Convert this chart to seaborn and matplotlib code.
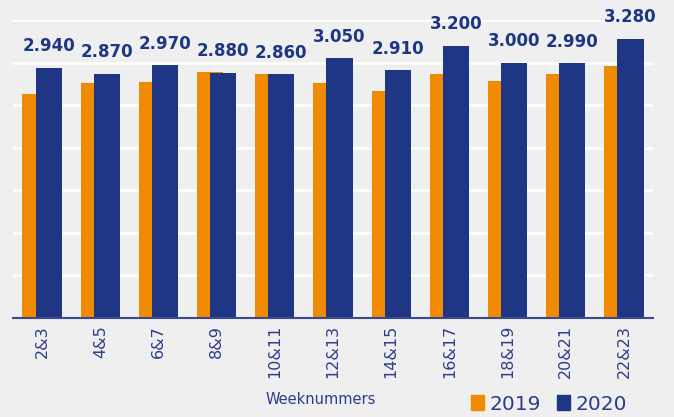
import pandas as pd
import numpy as np
import matplotlib.pyplot as plt
import seaborn as sns

# data
weeks = ['2&3', '4&5', '6&7', '8&9', '10&11', '12&13', '14&15', '16&17', '18&19', '20&21', '22&23']
values_2019 = [2630, 2760, 2770, 2890, 2870, 2760, 2670, 2870, 2780, 2870, 2960]
values_2020 = [2940, 2870, 2970, 2880, 2860, 3050, 2910, 3200, 3000, 2990, 3280]
years = ['2019', '2020']

orange = '#f08a00'
blue = '#1f3684'
text_blue = '#2d3c8c'
bg = '#efefef'

df = pd.DataFrame({
    'week': weeks * 2,
    'jaar': [years[0]] * len(weeks) + [years[1]] * len(weeks),
    'aantal': values_2019 + values_2020,
})

sns.set_style('white')
plt.rcParams['font.family'] = ['DejaVu Sans']

fig = plt.figure(figsize=(6.74, 4.17), dpi=100, facecolor=bg)
ax = fig.add_axes([13 / 674, 1 - 318 / 417, 640 / 674, 298 / 417])
ax.set_facecolor(bg)

sns.barplot(data=df, x='week', y='aantal', hue='jaar', palette=[orange, blue],
            width=0.9, dodge=True, saturation=1, linewidth=0,
            legend=False, ax=ax)

# make the two bars of a group overlap by half a bar
shift = 0.1125
for bar in ax.containers[0]:
    bar.set_x(bar.get_x() + shift)
for bar in ax.containers[1]:
    bar.set_x(bar.get_x() - shift)

labels = [f'{v:,}'.replace(',', '.') for v in values_2020]
ax.bar_label(ax.containers[1], labels=labels, padding=9, fontsize=12,
             fontweight='bold', color=blue, clip_on=False)

ax.set_ylim(0, 3500)
ax.set_yticks(np.arange(0, 3501, 500))
ax.set_yticklabels([])
ax.grid(axis='y', color='white', linewidth=1.8)
ax.set_axisbelow(True)
ax.tick_params(axis='y', length=0)
ax.tick_params(axis='x', length=0, pad=5, labelsize=11.5, labelcolor=text_blue,
               labelrotation=90)
for s in ['left', 'top', 'right']:
    ax.spines[s].set_visible(False)
ax.spines['bottom'].set_color('#3a4a92')
ax.spines['bottom'].set_linewidth(1.5)
ax.set_xlabel('')
ax.set_ylabel('')

fig.text(321 / 674, 1 - 399 / 417, 'Weeknummers', ha='center', va='center',
         fontsize=10.5, color=text_blue)

handles = [plt.Rectangle((0, 0), 1, 1, color=c) for c in [orange, blue]]
fig.legend(handles, years, loc='center', bbox_to_anchor=(549 / 674, 1 - 404 / 417),
           ncol=2, frameon=False, fontsize=14.5, labelcolor=text_blue,
           handlelength=0.65, handleheight=0.8, handletextpad=0.25,
           columnspacing=0.8, borderpad=0)

fig.savefig('out.png', dpi=100, facecolor=bg)
